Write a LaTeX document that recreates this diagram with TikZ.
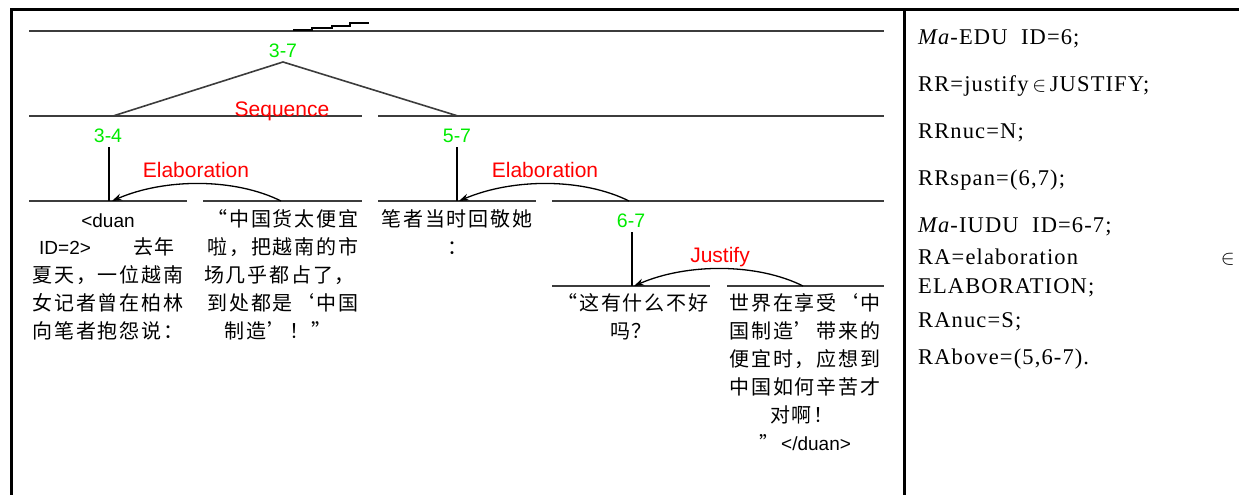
\documentclass[tikz,border=0pt]{standalone}
\usepackage{fontspec}
\setmainfont{Liberation Serif}
\newfontfamily\rser[LetterSpace=5]{Liberation Serif}
\newfontfamily\cjk[LetterSpace=9]{Noto Sans CJK SC}
\newfontfamily\lsans{Liberation Sans}
\usetikzlibrary{arrows.meta}
\definecolor{treegray}{HTML}{3C3C3C}
\definecolor{spangreen}{RGB}{0,235,0}
\tikzset{
  tline/.style={draw=treegray, line width=2pt},
  border/.style={draw=black, line width=3pt},
  cn/.style={font=\cjk\fontsize{20}{20}\selectfont, inner sep=0pt, anchor=base},
  ln/.style={font=\lsans\fontsize{19}{19}\selectfont, inner sep=0pt, anchor=base},
  spanlab/.style={font=\lsans\fontsize{19.5}{19.5}\selectfont, text=spangreen, inner sep=0pt, anchor=base},
  rellab/.style={font=\lsans\fontsize{21}{21}\selectfont, text=red, inner sep=0pt, anchor=base},
  rt/.style={font=\rser\fontsize{22.5}{22.5}\selectfont, inner sep=0pt, anchor=base west},
  relarc/.style={draw=black, line width=1.3pt, -{Stealth[length=10pt,width=7pt]}}
}
\begin{document}
\begin{tikzpicture}[x=1pt,y=-1pt]
\useasboundingbox (0,0) rectangle (1239,495);
% frame
\draw[border] (11,10) -- (1239,10);
\draw[border] (11,8.5) -- (11,495);
\draw[border] (904,10) -- (904,495);

% horizontal tree lines
\draw[tline] (29,31) -- (884,31);
\draw[tline] (29,116) -- (362,116);
\draw[tline] (378,116) -- (884,116);
\draw[tline] (29,201) -- (187,201);
\draw[tline] (203,201) -- (362,201);
\draw[tline] (378,201) -- (536,201);
\draw[tline] (552,201) -- (884,201);
\draw[tline] (552,286) -- (710,286);
\draw[tline] (727,286) -- (884,286);
% small stair at top
\draw[draw=black, line width=2pt] (293,30) -- (312,30) -- (312,28) -- (332,28) -- (332,26) -- (350,26) -- (350,23.5) -- (369,23.5);

% span labels
\node[spanlab] (s37) at (283,57) {3-7};
\node[spanlab] (s34) at (108,142) {3-4};
\node[spanlab] (s57) at (457,142) {5-7};
\node[spanlab] (s67) at (631,227) {6-7};

% tree connectors
\coordinate (apex) at (283,62);
\coordinate (l34) at (113,116);
\coordinate (l57) at (458,116);
\draw[tline, line width=1.6pt] (l34) -- (apex) -- (l57);
\coordinate (v34t) at (109,147);
\coordinate (v34b) at (109,201);
\coordinate (v57t) at (457,147);
\coordinate (v57b) at (457,201);
\coordinate (v67t) at (632,232);
\coordinate (v67b) at (632,286);
\draw[draw=black, line width=1.5pt] (v34t) -- (v34b);
\draw[draw=black, line width=1.5pt] (v57t) -- (v57b);
\draw[draw=black, line width=1.5pt] (v67t) -- (v67b);

% relation arcs
\coordinate (e1s) at (281,201);
\coordinate (e1e) at (112,201);
\coordinate (e2s) at (629,201);
\coordinate (e2e) at (459,201);
\coordinate (j1s) at (803,286);
\coordinate (j1e) at (634,286);
\draw[relarc] (e1s) .. controls (235,178) and (165,178) .. (e1e);
\draw[relarc] (e2s) .. controls (583,178) and (513,178) .. (e2e);
\draw[relarc] (j1s) .. controls (757,263) and (687,263) .. (j1e);

% relation labels
\node[rellab] (seq) at (282,116) {Sequence};
\node[rellab] (el1) at (196,177) {Elaboration};
\node[rellab] (el2) at (545,177) {Elaboration};
\node[rellab] (jus) at (720,262) {Justify};

% EDU 3
\node[ln] (e3a) at (108,227) {<duan};
\node[ln, anchor=base west] (e3b) at (39,254) {ID=2>};
\node[cn, anchor=base west] (e3c) at (133,254) {去年};
\node[cn] (e3d) at (108,282) {夏天，一位越南};
\node[cn] (e3e) at (108,310) {女记者曾在柏林};
\node[cn] (e3f) at (108,338) {向笔者抱怨说：};
% EDU 4
\node[cn] (e4a) at (283,226) {“中国货太便宜};
\node[cn] (e4b) at (283,254) {啦，把越南的市};
\node[cn, anchor=base west] (e4c) at (204,282) {场几乎都占了，};
\node[cn] (e4d) at (283,310) {到处都是‘中国};
\node[cn] (e4e) at (278,338) {制造’！”};
% EDU 5
\node[cn] (e5a) at (457,226) {笔者当时回敬她};
\node[cn] (e5b) at (457,254) {：};
% EDU 6
\node[cn] (e6a) at (633,310) {“这有什么不好};
\node[cn] (e6b) at (631,338) {吗？};
% EDU 7
\node[cn] (e7a) at (805,310) {世界在享受‘中};
\node[cn] (e7b) at (805,338) {国制造’带来的};
\node[cn] (e7c) at (805,366) {便宜时，应想到};
\node[cn] (e7d) at (805,394) {中国如何辛苦才};
\node[cn] (e7e) at (802,422) {对啊！};
\node[ln] (e7f) at (805,450) {{\cjk ”}\,</duan>};

% right column text
\node[rt] (r1) at (918,45) {\textit{Ma}-EDU\ \ ID=6;};
\node[rt] (r2) at (918,92) {RR=justify\,$\in$\,JUSTIFY;};
\node[rt] (r3) at (918,138) {RRnuc=N;};
\node[rt] (r4) at (918,185) {RRspan=(6,7);};
\node[rt] (r5) at (918,232) {\textit{Ma}-IUDU\ \ ID=6-7;};
\node[rt] (r6) at (918,264) {RA=elaboration};
\node[rt, anchor=base east] (r6b) at (1235,264) {$\in$};
\node[rt] (r7) at (918,293) {ELABORATION;};
\node[rt] (r8) at (918,327) {RAnuc=S;};
\node[rt] (r9) at (918,364) {RAbove=(5,6-7).};
\end{tikzpicture}
\end{document}
